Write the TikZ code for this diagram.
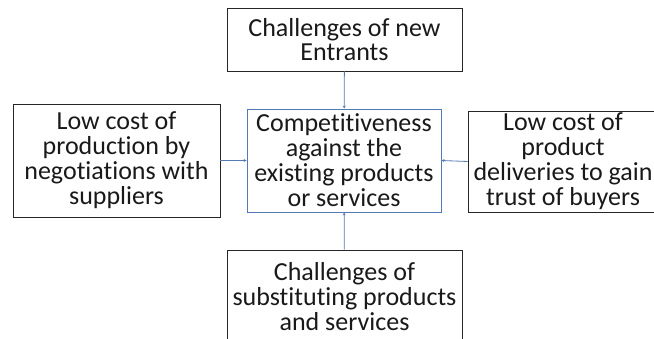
\documentclass[tikz,border=0pt]{standalone}
\usepackage{fontspec}
\setmainfont[Ligatures=NoCommon]{Carlito}
\usepackage{xcolor}
\usepackage{tikz}
\usetikzlibrary{arrows.meta}
\definecolor{linkblue}{RGB}{84,122,180}

\begin{document}
\begin{tikzpicture}[x=1pt,y=-1pt,auto=center,every node/.style={rectangle,draw=black!85,line width=0.9pt,align=center,inner sep=0pt,text=black!90,font=\fontsize{26}{25}\selectfont}]
  	\useasboundingbox (0,0) rectangle (654,338);
  	\node[minimum width=235,minimum height=63] (entrants) at (344.5,39.5) {Challenges of new\\[-0.5pt]Entrants};
  	\node[minimum width=207,minimum height=113] (prod) at (116.5,160.5) {Low cost of\\production by\\negotiations with\\suppliers};
  	\node[draw=linkblue,minimum width=194,minimum height=103] (comp) at (344,160.5) {Competitiveness\\against the\\existing products\\or services};
  	\node[minimum width=190,minimum height=101] (deliv) at (563,161.5) {Low cost of\\product\\deliveries to gain\\trust of buyers};
  	\node[minimum width=235,minimum height=94] (subst) at (344.5,297) {Challenges of\\substituting products\\and services};
  
  	\draw[linkblue,line width=0.8pt,-{Stealth[length=3pt,width=3pt]}] (entrants) -- (comp);
  	\draw[linkblue,line width=0.8pt,-{Stealth[length=3pt,width=3pt]}] (prod) -- (comp);
  	\draw[linkblue,line width=0.8pt,-{Stealth[length=3pt,width=3pt]}] (deliv.west) -- (comp.east);
  	\draw[linkblue,line width=0.8pt,-{Stealth[length=3pt,width=3pt]}] (subst) -- (comp);
	\end{tikzpicture}
\end{document}
